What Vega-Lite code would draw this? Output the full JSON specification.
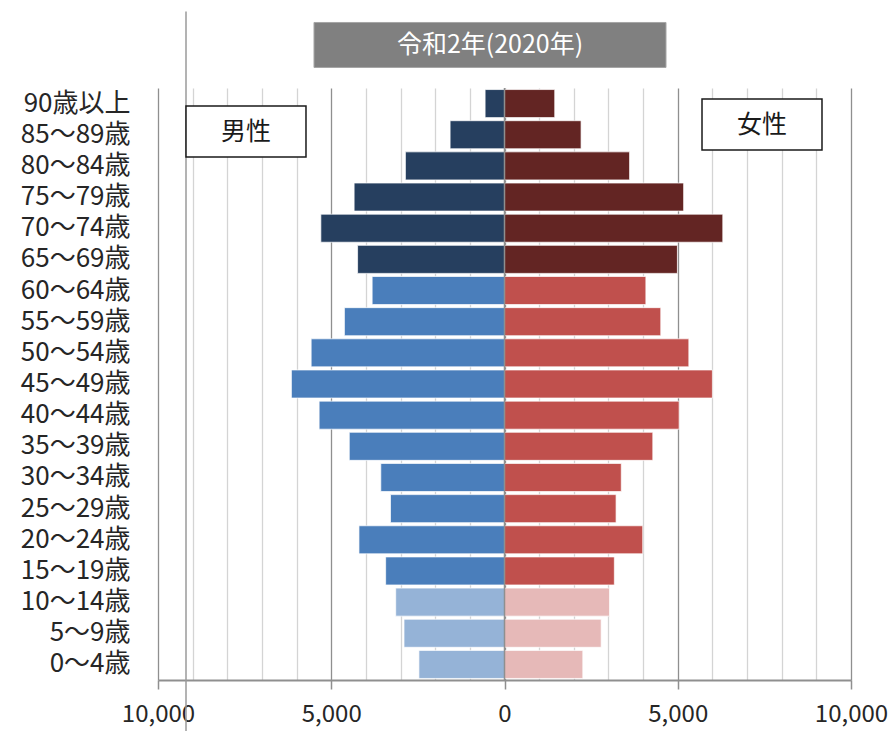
{
  "$schema": "https://vega.github.io/schema/vega-lite/v6.json",
  "width": 693,
  "height": 592,
  "autosize": {"type": "none"},
  "padding": {"left": 158, "top": 88, "right": 37, "bottom": 51},
  "background": "white",
  "config": {"view": {"stroke": null}, "font": "Noto Sans CJK JP"},
  "resolve": {"axis": {"x": "independent", "y": "independent"}},
  "datasets": {
    "pop": [
      {"age": "90歳以上", "sex": "男性", "group": "男性・老年", "value": -560},
      {"age": "90歳以上", "sex": "女性", "group": "女性・老年", "value": 1450},
      {"age": "85〜89歳", "sex": "男性", "group": "男性・老年", "value": -1570},
      {"age": "85〜89歳", "sex": "女性", "group": "女性・老年", "value": 2210},
      {"age": "80〜84歳", "sex": "男性", "group": "男性・老年", "value": -2860},
      {"age": "80〜84歳", "sex": "女性", "group": "女性・老年", "value": 3610},
      {"age": "75〜79歳", "sex": "男性", "group": "男性・老年", "value": -4340},
      {"age": "75〜79歳", "sex": "女性", "group": "女性・老年", "value": 5170},
      {"age": "70〜74歳", "sex": "男性", "group": "男性・老年", "value": -5300},
      {"age": "70〜74歳", "sex": "女性", "group": "女性・老年", "value": 6300},
      {"age": "65〜69歳", "sex": "男性", "group": "男性・老年", "value": -4240},
      {"age": "65〜69歳", "sex": "女性", "group": "女性・老年", "value": 4990},
      {"age": "60〜64歳", "sex": "男性", "group": "男性・生産年齢", "value": -3820},
      {"age": "60〜64歳", "sex": "女性", "group": "女性・生産年齢", "value": 4080},
      {"age": "55〜59歳", "sex": "男性", "group": "男性・生産年齢", "value": -4620},
      {"age": "55〜59歳", "sex": "女性", "group": "女性・生産年齢", "value": 4510},
      {"age": "50〜54歳", "sex": "男性", "group": "男性・生産年齢", "value": -5580},
      {"age": "50〜54歳", "sex": "女性", "group": "女性・生産年齢", "value": 5320},
      {"age": "45〜49歳", "sex": "男性", "group": "男性・生産年齢", "value": -6150},
      {"age": "45〜49歳", "sex": "女性", "group": "女性・生産年齢", "value": 6000},
      {"age": "40〜44歳", "sex": "男性", "group": "男性・生産年齢", "value": -5350},
      {"age": "40〜44歳", "sex": "女性", "group": "女性・生産年齢", "value": 5040},
      {"age": "35〜39歳", "sex": "男性", "group": "男性・生産年齢", "value": -4480},
      {"age": "35〜39歳", "sex": "女性", "group": "女性・生産年齢", "value": 4280},
      {"age": "30〜34歳", "sex": "男性", "group": "男性・生産年齢", "value": -3570},
      {"age": "30〜34歳", "sex": "女性", "group": "女性・生産年齢", "value": 3370},
      {"age": "25〜29歳", "sex": "男性", "group": "男性・生産年齢", "value": -3290},
      {"age": "25〜29歳", "sex": "女性", "group": "女性・生産年齢", "value": 3220},
      {"age": "20〜24歳", "sex": "男性", "group": "男性・生産年齢", "value": -4200},
      {"age": "20〜24歳", "sex": "女性", "group": "女性・生産年齢", "value": 3990},
      {"age": "15〜19歳", "sex": "男性", "group": "男性・生産年齢", "value": -3430},
      {"age": "15〜19歳", "sex": "女性", "group": "女性・生産年齢", "value": 3170},
      {"age": "10〜14歳", "sex": "男性", "group": "男性・年少", "value": -3140},
      {"age": "10〜14歳", "sex": "女性", "group": "女性・年少", "value": 3030},
      {"age": "5〜9歳", "sex": "男性", "group": "男性・年少", "value": -2900},
      {"age": "5〜9歳", "sex": "女性", "group": "女性・年少", "value": 2790},
      {"age": "0〜4歳", "sex": "男性", "group": "男性・年少", "value": -2470},
      {"age": "0〜4歳", "sex": "女性", "group": "女性・年少", "value": 2260}
    ]
  },
  "layer": [
    {
      "data": {"name": "pop"},
      "mark": {"type": "bar", "stroke": "white", "strokeWidth": 1, "strokeOpacity": 0.7},
      "encoding": {
        "y": {
          "field": "age",
          "type": "nominal",
          "scale": {
            "domain": ["90歳以上", "85〜89歳", "80〜84歳", "75〜79歳", "70〜74歳", "65〜69歳", "60〜64歳", "55〜59歳", "50〜54歳", "45〜49歳", "40〜44歳", "35〜39歳", "30〜34歳", "25〜29歳", "20〜24歳", "15〜19歳", "10〜14歳", "5〜9歳", "0〜4歳"],
            "paddingInner": 0.1,
            "paddingOuter": 0.05
          },
          "axis": {
            "title": null,
            "ticks": false,
            "domain": false,
            "labelFontSize": 26,
            "labelPadding": 28,
            "labelColor": "#262626",
            "labelFont": "Noto Sans CJK JP"
          }
        },
        "x": {
          "field": "value",
          "type": "quantitative",
          "scale": {"domain": [-10000, 10000], "nice": false},
          "axis": {
            "title": null,
            "values": [-10000, -9000, -8000, -7000, -6000, -5000, -4000, -3000, -2000, -1000, 0, 1000, 2000, 3000, 4000, 5000, 6000, 7000, 8000, 9000, 10000],
            "labelExpr": "datum.value % 5000 === 0 ? format(abs(datum.value), ',') : ''",
            "grid": true,
            "gridColor": {"condition": {"test": "datum.value % 5000 === 0", "value": "#8f8f8f"}, "value": "#d4d4d4"},
            "gridWidth": 1.3,
            "tickColor": {"condition": {"test": "datum.value % 5000 === 0", "value": "#8f8f8f"}, "value": "transparent"},
            "tickSize": 9,
            "tickWidth": 1.5,
            "domainColor": "#8f8f8f",
            "domainWidth": 2,
            "labelFontSize": 24,
            "labelPadding": 13,
            "labelColor": "#262626",
            "labelFont": "Noto Sans CJK JP",
            "labelFlush": false,
            "labelOverlap": false,
            "labelBound": false
          }
        },
        "color": {
          "field": "group",
          "type": "nominal",
          "scale": {
            "domain": ["男性・老年", "女性・老年", "男性・生産年齢", "女性・生産年齢", "男性・年少", "女性・年少"],
            "range": ["#263F5F", "#632523", "#4A7EBB", "#C0504D", "#95B3D7", "#E6B9B8"]
          },
          "legend": null
        }
      }
    },
    {
      "data": {"values": [{}]},
      "mark": {"type": "rule", "color": "#8f8f8f", "strokeWidth": 1.5},
      "encoding": {"x": {"datum": 0, "axis": null}}
    },
    {
      "data": {"values": [{}]},
      "mark": {"type": "rule", "color": "#9a9a9a", "strokeWidth": 1.5, "yOffset": -92, "y2Offset": 90},
      "encoding": {"x": {"datum": -9192, "axis": null}, "y": {"datum": "90歳以上", "axis": null}, "y2": {"datum": "0〜4歳"}}
    },
    {
      "data": {"values": [{"label": "令和2年(2020年)"}]},
      "mark": {"type": "bar", "color": "#808080", "height": 45, "yOffset": -58.6, "stroke": "#a6a6a6", "strokeWidth": 1},
      "encoding": {"x": {"datum": -5498, "axis": null}, "x2": {"datum": 4661}, "y": {"datum": "90歳以上", "axis": null}}
    },
    {
      "data": {"values": [{"label": "令和2年(2020年)"}]},
      "mark": {"type": "text", "color": "white", "fontSize": 25, "font": "Noto Sans CJK JP", "yOffset": -58.6, "align": "center", "baseline": "middle"},
      "encoding": {"x": {"datum": -418, "axis": null}, "y": {"datum": "90歳以上", "axis": null}, "text": {"field": "label"}}
    },
    {
      "data": {"values": [{"label": "男性"}]},
      "mark": {"type": "bar", "fill": "white", "stroke": "#1a1a1a", "strokeWidth": 1.5, "height": 51, "yOffset": 28},
      "encoding": {"x": {"datum": -9192, "axis": null}, "x2": {"datum": -5729}, "y": {"datum": "90歳以上", "axis": null}}
    },
    {
      "data": {"values": [{"label": "男性"}]},
      "mark": {"type": "text", "color": "#1a1a1a", "fontSize": 25, "font": "Noto Sans CJK JP", "yOffset": 28, "align": "center", "baseline": "middle"},
      "encoding": {"x": {"datum": -7460, "axis": null}, "y": {"datum": "90歳以上", "axis": null}, "text": {"field": "label"}}
    },
    {
      "data": {"values": [{"label": "女性"}]},
      "mark": {"type": "bar", "fill": "white", "stroke": "#1a1a1a", "strokeWidth": 1.5, "height": 51, "yOffset": 21},
      "encoding": {"x": {"datum": 5700, "axis": null}, "x2": {"datum": 9163}, "y": {"datum": "90歳以上", "axis": null}}
    },
    {
      "data": {"values": [{"label": "女性"}]},
      "mark": {"type": "text", "color": "#1a1a1a", "fontSize": 25, "font": "Noto Sans CJK JP", "yOffset": 21, "align": "center", "baseline": "middle"},
      "encoding": {"x": {"datum": 7431, "axis": null}, "y": {"datum": "90歳以上", "axis": null}, "text": {"field": "label"}}
    }
  ]
}
